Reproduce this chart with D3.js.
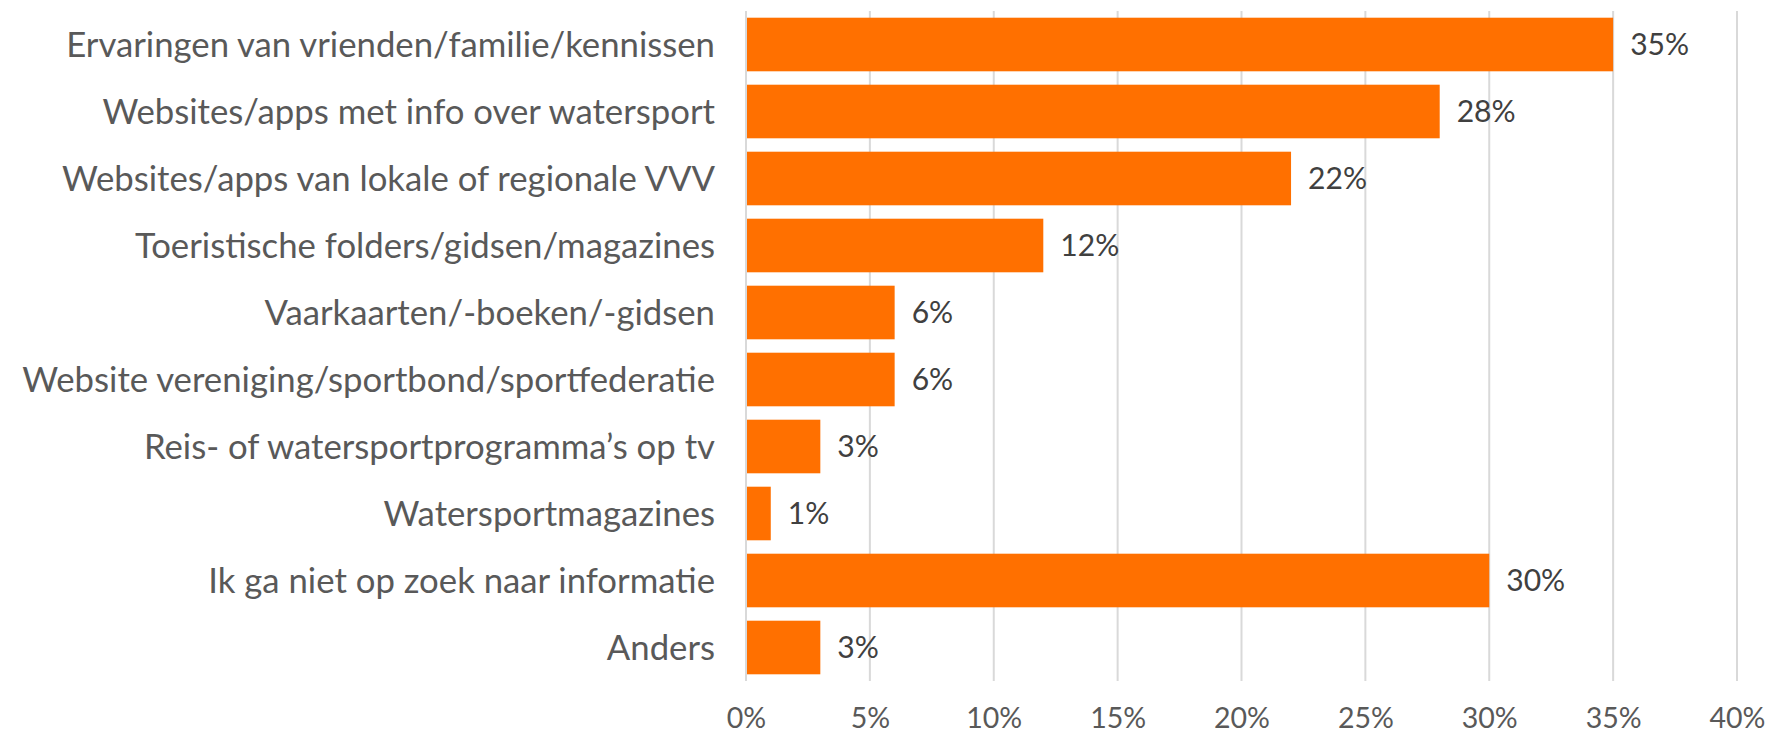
<!DOCTYPE html>
<html>
<head>
<meta charset="utf-8">
<script src="https://cdn.jsdelivr.net/npm/d3@7"></script>
<style>
  html, body { margin: 0; padding: 0; background: #ffffff; }
  svg { display: block; }
  text { font-family: "Lato", "Open Sans", sans-serif; }
</style>
</head>
<body>
<svg id="chart" width="1773" height="736"></svg>
<script>
// Information sources used when looking for watersport info (% of respondents)
const categories = [
  "Ervaringen van vrienden/familie/kennissen",
  "Websites/apps met info over watersport",
  "Websites/apps van lokale of regionale VVV",
  "Toeristische folders/gidsen/magazines",
  "Vaarkaarten/-boeken/-gidsen",
  "Website vereniging/sportbond/sportfederatie",
  "Reis- of watersportprogramma\u2019s op tv",
  "Watersportmagazines",
  "Ik ga niet op zoek naar informatie",
  "Anders"
];
const values = [35, 28, 22, 12, 6, 6, 3, 1, 30, 3];
const xTicks = [0, 5, 10, 15, 20, 25, 30, 35, 40];

const svg = d3.select("#chart");
const plot = { left: 746, right: 1737, top: 11, bottom: 681 };

const x = d3.scaleLinear().domain([0, 40]).range([plot.left, plot.right]);
const y = d3.scaleBand().domain(categories).range([plot.top, plot.bottom])
  .paddingInner(0.2).paddingOuter(0.1);

// vertical gridlines (including the zero line)
svg.append("g").selectAll("line").data(xTicks).join("line")
  .attr("x1", d => x(d)).attr("x2", d => x(d))
  .attr("y1", plot.top).attr("y2", plot.bottom)
  .attr("stroke", "#d9d9d9").attr("stroke-width", 2);

// bars
svg.append("g").selectAll("rect").data(values).join("rect")
  .attr("x", x(0) + 1)
  .attr("y", (d, i) => y(categories[i]))
  .attr("width", d => x(d) - x(0) - 1)
  .attr("height", y.bandwidth())
  .attr("fill", "#ff7000");

// bottom axis tick labels
const xAxis = d3.axisBottom(x).tickValues(xTicks).tickFormat(d => d + "%").tickSize(0).tickPadding(0);
const gx = svg.append("g").attr("transform", `translate(0, ${plot.bottom})`).call(xAxis);
gx.select(".domain").remove();
gx.selectAll("text")
  .attr("y", 37).attr("dy", "0.35em")
  .attr("fill", "#595959")
  .style("font-family", "Lato, 'Open Sans', sans-serif")
  .style("font-size", "31px");

// category labels
const catLabels = svg.append("g").selectAll("text").data(categories).join("text")
  .attr("x", 715)
  .attr("y", d => y(d) + y.bandwidth() / 2)
  .attr("dy", "0.35em")
  .attr("text-anchor", "end")
  .attr("fill", "#595959")
  .style("font-size", "31px")
  .text(d => d);

// value labels
const valLabels = svg.append("g").selectAll("text").data(values).join("text")
  .attr("x", d => x(d) + 17)
  .attr("y", (d, i) => y(categories[i]) + y.bandwidth() / 2)
  .attr("dy", "0.35em")
  .attr("fill", "#404040")
  .style("font-size", "31px")
  .text(d => d + "%");

// size the type so the longest label spans the wanted width
function fitSize(sel, node, target) {
  const w = node.getComputedTextLength();
  const fs = 31 * target / w;
  sel.style("font-size", fs + "px");
}
fitSize(catLabels, catLabels.nodes()[0], 649);
fitSize(valLabels, valLabels.nodes()[0], 59);
fitSize(gx.selectAll("text"), gx.selectAll("text").nodes()[7], 56);
</script>
</body>
</html>
